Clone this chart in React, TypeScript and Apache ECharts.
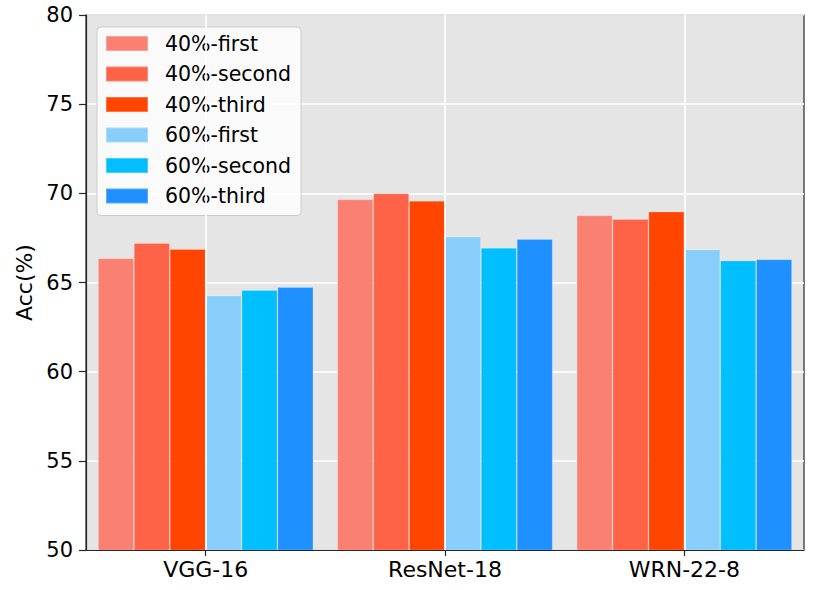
import React, { useEffect, useRef } from "react";
import * as echarts from "echarts";

const categories = ["VGG-16", "ResNet-18", "WRN-22-8"];
const seriesNames = ["40%-first", "40%-second", "40%-third", "60%-first", "60%-second", "60%-third"];
const colors = ["#FA8072", "#FF6347", "#FF4500", "#87CEFA", "#00BFFF", "#1E90FF"];
const first40 = [66.36, 69.66, 68.77];
const second40 = [67.21, 70.0, 68.55];
const third40 = [66.87, 69.58, 68.98];
const first60 = [64.27, 67.57, 66.85];
const second60 = [64.57, 66.94, 66.23];
const third60 = [64.74, 67.43, 66.3];
const values = [first40, second40, third40, first60, second60, third60];
const yTicks = { min: 50, max: 80, interval: 5 };

export default function App() {
  const ref = useRef<HTMLDivElement>(null);
  useEffect(() => {
    if (!ref.current) return;
    const chart = echarts.init(ref.current, null, { renderer: "svg" });
    const font = "DejaVu Sans";
    chart.setOption({
      animation: false,
      textStyle: { fontFamily: font },
      grid: {
        left: 86,
        right: 18,
        top: 15,
        bottom: 40,
        show: true,
        backgroundColor: "#e5e5e5",
        borderColor: "#262626",
        borderWidth: 1.2,
      },
      legend: {
        orient: "vertical",
        left: 97,
        top: 27,
        data: seriesNames,
        icon: "rect",
        itemWidth: 42,
        itemHeight: 15,
        itemGap: 9.5,
        padding: [6, 10, 9, 8],
        backgroundColor: "rgba(255,255,255,0.8)",
        borderColor: "#cccccc",
        borderWidth: 1,
        borderRadius: 4,
        textStyle: {
          fontFamily: font,
          fontSize: 20.5,
          lineHeight: 20,
          color: "#000",
          padding: [0, 0, 0, 12],
        },
      },
      xAxis: {
        type: "category",
        data: categories,
        z: 10,
        axisLine: { show: true, lineStyle: { color: "#262626", width: 1.2 } },
        axisTick: { show: true, alignWithLabel: true, length: 6, lineStyle: { color: "#262626", width: 1.2 } },
        axisLabel: { fontFamily: font, fontSize: 22, color: "#000", margin: 8 },
        splitLine: { show: true, alignWithLabel: true, lineStyle: { color: "#ffffff", width: 1.6 } },
      },
      yAxis: {
        type: "value",
        min: yTicks.min,
        max: yTicks.max,
        interval: yTicks.interval,
        name: "Acc(%)",
        nameLocation: "middle",
        nameGap: 48,
        nameTextStyle: { fontFamily: font, fontSize: 22, color: "#000" },
        axisLine: { show: true, onZero: false, lineStyle: { color: "#262626", width: 1.2 } },
        axisTick: { show: true, length: 7, lineStyle: { color: "#262626", width: 1.2 } },
        axisLabel: { fontFamily: font, fontSize: 21, color: "#000", margin: 13 },
        splitLine: { show: true, lineStyle: { color: "#ffffff", width: 1.6 } },
      },
      series: seriesNames.map((name, i) => ({
        name,
        type: "bar",
        data: values[i],
        barGap: "0%",
        barCategoryGap: "10%",
        itemStyle: { color: colors[i], borderColor: "rgba(255,255,255,0.25)", borderWidth: 0.8 },
      })),
    });
    return () => chart.dispose();
  }, []);
  return (
    <div
      ref={ref}
      style={{ position: "absolute", left: 0, top: 0, width: 822, height: 590, background: "#fff" }}
    />
  );
}
